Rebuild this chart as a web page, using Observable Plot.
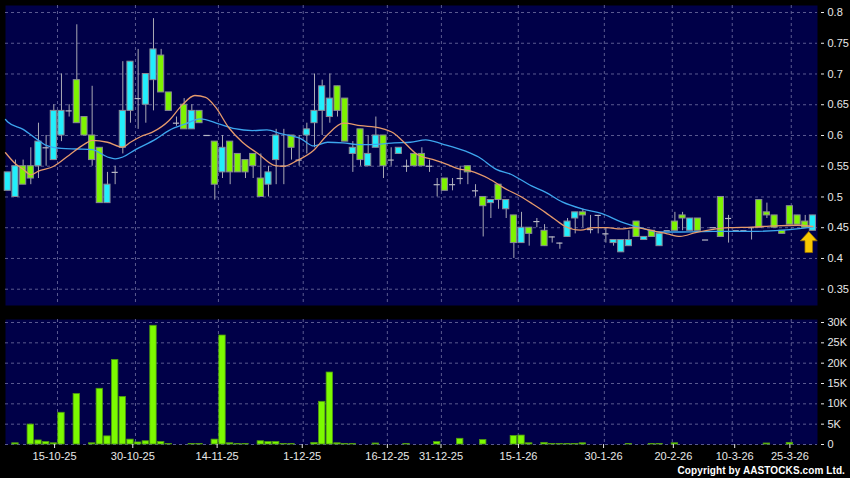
<!DOCTYPE html>
<html><head><meta charset="utf-8">
<script src="https://cdn.jsdelivr.net/npm/d3@7"></script>
<script src="https://cdn.jsdelivr.net/npm/@observablehq/plot@0.6"></script>
<style>
html,body{margin:0;padding:0;background:#000;}
#wrap{position:relative;width:850px;height:478px;background:#000;overflow:hidden;font-family:"Liberation Sans",Arial,sans-serif;}
#price{position:absolute;left:0;top:0;}
#vol{position:absolute;left:0;top:310px;}
#copy{position:absolute;right:5px;top:465px;color:#fff;font:bold 10px "Liberation Sans",Arial,sans-serif;letter-spacing:0.1px;white-space:nowrap;}
</style></head><body>
<div id="wrap"><div id="price"></div><div id="vol"></div><div id="copy">Copyright by AASTOCKS.com Ltd.</div></div>
<script>
// ---- data ----
const open = [0.51,0.50,0.55,0.55,0.55,0.58,0.56,0.60,0.64,0.69, 0.63,0.60,0.58,0.49,0.54,0.58,0.64,0.66,0.65,0.69, 0.73,0.67,0.62,0.65,0.61,0.64,0.60,0.59,0.54,0.59, 0.57,0.56,0.57,0.53,0.52,0.56,0.55,0.60,0.56,0.60, 0.62,0.64,0.63,0.68,0.66,0.57,0.61,0.55,0.58,0.60, 0.56,0.57,0.55,0.57,0.57,0.55,0.52,0.53,0.52,0.53, 0.55,0.51,0.50,0.49,0.52,0.48,0.47,0.425,0.45,0.46, 0.445,0.435,0.425,0.435,0.465,0.475,0.447,0.47,0.44,0.425, 0.41,0.42,0.46,0.43,0.445,0.42,0.445,0.46,0.47,0.445, 0.465,0.43,0.45,0.50,0.465,0.445,0.445,0.45,0.495,0.475, 0.47,0.445,0.485,0.47,0.46,0.445];
const high = [0.54,0.56,0.56,0.58,0.62,0.60,0.65,0.70,0.65,0.78, 0.63,0.68,0.58,0.54,0.55,0.72,0.72,0.74,0.70,0.79, 0.74,0.67,0.63,0.66,0.65,0.64,0.60,0.59,0.60,0.59, 0.57,0.56,0.57,0.57,0.55,0.61,0.61,0.60,0.60,0.62, 0.70,0.69,0.70,0.68,0.66,0.59,0.61,0.60,0.63,0.60, 0.58,0.58,0.56,0.57,0.58,0.56,0.53,0.53,0.53,0.55, 0.55,0.52,0.50,0.495,0.52,0.495,0.47,0.475,0.45,0.465, 0.455,0.435,0.425,0.465,0.475,0.48,0.47,0.47,0.45,0.43, 0.43,0.445,0.46,0.435,0.445,0.44,0.445,0.475,0.475,0.465, 0.465,0.43,0.45,0.50,0.47,0.445,0.445,0.45,0.495,0.49, 0.47,0.445,0.485,0.47,0.47,0.47];
const low = [0.51,0.50,0.52,0.52,0.53,0.55,0.56,0.59,0.63,0.62, 0.60,0.55,0.49,0.49,0.52,0.57,0.62,0.61,0.62,0.64, 0.67,0.64,0.615,0.61,0.61,0.62,0.60,0.495,0.53,0.52, 0.54,0.53,0.53,0.50,0.50,0.52,0.52,0.56,0.55,0.57, 0.58,0.60,0.62,0.63,0.59,0.54,0.55,0.55,0.58,0.53, 0.55,0.57,0.54,0.55,0.55,0.54,0.50,0.51,0.51,0.52, 0.52,0.50,0.435,0.465,0.48,0.465,0.40,0.425,0.42,0.45, 0.42,0.425,0.415,0.435,0.44,0.45,0.44,0.44,0.425,0.42, 0.41,0.42,0.435,0.43,0.435,0.42,0.445,0.445,0.445,0.445, 0.445,0.43,0.45,0.435,0.425,0.445,0.445,0.43,0.45,0.465, 0.45,0.44,0.455,0.455,0.45,0.445];
const close = [0.54,0.55,0.52,0.53,0.59,0.58,0.64,0.64,0.64,0.62, 0.60,0.56,0.49,0.52,0.54,0.64,0.72,0.66,0.70,0.74, 0.67,0.64,0.62,0.61,0.64,0.62,0.60,0.52,0.58,0.54, 0.54,0.54,0.55,0.50,0.54,0.60,0.55,0.58,0.56,0.61, 0.64,0.68,0.66,0.64,0.59,0.58,0.56,0.57,0.60,0.55, 0.56,0.58,0.55,0.55,0.55,0.55,0.52,0.51,0.52,0.53, 0.54,0.51,0.485,0.495,0.495,0.495,0.425,0.45,0.44,0.46, 0.42,0.435,0.425,0.46,0.475,0.47,0.447,0.47,0.44,0.43, 0.43,0.43,0.435,0.435,0.435,0.44,0.445,0.445,0.465,0.465, 0.445,0.43,0.45,0.435,0.465,0.445,0.445,0.45,0.45,0.47, 0.45,0.44,0.455,0.455,0.45,0.47];
// volume in thousands of shares
const volumeK = [0,0.3,0,4.9,1.0,0.6,0.3,7.8,0,12.4, 0,0.3,13.7,2.0,20.8,11.7,1.2,0.5,0.8,29.2, 0.6,0.1,0,0,0.1,0.1,0,1.2,26.8,0.3, 0.1,0.1,0,0.8,0.6,0.6,0.1,0.1,0,0, 0.4,10.5,17.7,0.3,0.1,0.1,0,0,0.25,0, 0,0,0.15,0,0,0,0.6,0,0,1.4, 0,0,1.1,0,0,0,2.1,2.2,0.3,0, 0.4,0.1,0.1,0.1,0.1,0.3,0,0,0,0, 0,0.1,0,0,0.1,0.1,0,0.3,0,0, 0,0,0,0,0,0,0,0,0,0.25, 0,0,0.4,0,0,0];
// moving averages (session index, price)
const ma20Pos = [-0.3,0,2,4,5,7,9,11,13,14,15,16.65,19.3,21,23.2,25.1,27.5,29.6,31.9,33.8,35.6,38.2,39.9,41.7,43.7,46,48.6,50.4,52.5,54.5,56.7,59.8,61.4,63.7,65.6,68.3,70.1,72.3,75.1,77.5,79.9,82.5,85,87.7,92,97,102,105];
const ma20Val = [0.626,0.622,0.61,0.592,0.584,0.579,0.578,0.577,0.565,0.562,0.565,0.577,0.594,0.608,0.619,0.627,0.619,0.611,0.608,0.609,0.603,0.595,0.583,0.589,0.588,0.585,0.586,0.588,0.589,0.593,0.586,0.574,0.565,0.545,0.537,0.518,0.508,0.492,0.48,0.473,0.46,0.45,0.443,0.443,0.444,0.444,0.447,0.451];
const ma10Pos = [-0.3,1,2,3,4,6,8,10,11,13,15,16,17.3,18.8,21,22.7,24.4,25.8,27.1,28.8,30.6,32.7,34.9,36,37.7,39.9,41.6,43.8,46,48.6,50.3,51.5,53.4,55.4,57.1,58.7,60.4,62.7,64.8,66.7,68.4,70.1,71.2,72.7,74.7,76.4,78.2,79.9,81.7,84.2,86,87.7,89.7,91.4,94,97,100,103,105];
const ma10Val = [0.572,0.554,0.545,0.536,0.542,0.55,0.568,0.586,0.592,0.589,0.581,0.589,0.598,0.605,0.624,0.649,0.665,0.662,0.646,0.613,0.589,0.57,0.551,0.55,0.559,0.576,0.60,0.62,0.616,0.612,0.604,0.591,0.569,0.561,0.554,0.546,0.542,0.53,0.514,0.502,0.489,0.475,0.465,0.452,0.446,0.45,0.45,0.448,0.45,0.445,0.44,0.436,0.442,0.446,0.45,0.451,0.453,0.454,0.452];
// x axis: date labels and their session positions
const tickLabels = ["15-10-25","30-10-25","14-11-25","1-12-25","16-12-25","31-12-25","15-1-26","30-1-26","20-2-26","10-3-26","25-3-26"];
const tickIdx = [6.1,16.3,27.3,38.4,49.5,56.5,66.6,77.7,86.8,94.8,102.0];
const gridIdx = [6.48,16.65,27.47,38.53,49.5,56.55,66.58,77.8,86.66,94.48,102.18];
const priceTicks = [0.35,0.4,0.45,0.5,0.55,0.6,0.65,0.7,0.75,0.8];
const volTicks = [0,5,10,15,20,25,30];
const arrowAt = [{i: 104.46, price: 0.4267}];

// ---- styles ----
const NAVY = "#000048";
const GRID = "#5a5a90";
const CYAN = "#22eefc";
const GREEN = "#7ef400";
const TXT = "#e8e8e8";
const FONT = "Liberation Sans, Arial, sans-serif";
const X_DOMAIN = [-0.3, 105.6];
const HW = 0.4;

const candles = open.map((o, i) => ({i, o, h: high[i], l: low[i], c: close[i]}));
const up = candles.filter(d => d.c > d.o);
const down = candles.filter(d => d.c < d.o);
const doji = candles.filter(d => d.c === d.o);
const ma20 = ma20Pos.map((x, k) => ({x, y: ma20Val[k]}));
const ma10 = ma10Pos.map((x, k) => ({x, y: ma10Val[k]}));
const vols = volumeK.map((v, i) => ({i, v})).filter(d => d.v > 0);

const arrowSymbol = {
  draw(ctx, size) {
    const s = Math.sqrt(size / Math.PI);
    ctx.moveTo(0, -s);
    ctx.lineTo(0.8 * s, -0.12 * s);
    ctx.lineTo(0.36 * s, -0.12 * s);
    ctx.lineTo(0.36 * s, s);
    ctx.lineTo(-0.36 * s, s);
    ctx.lineTo(-0.36 * s, -0.12 * s);
    ctx.lineTo(-0.8 * s, -0.12 * s);
    ctx.closePath();
  }
};

const price = Plot.plot({
  width: 850, height: 310,
  marginLeft: 5, marginRight: 33, marginTop: 5, marginBottom: 5,
  style: {background: "#000", color: TXT, fontFamily: FONT, fontSize: "11px", overflow: "visible"},
  x: {domain: X_DOMAIN, axis: null, label: null},
  y: {domain: [0.3235, 0.8114], axis: null, label: null},
  marks: [
    Plot.frame({fill: NAVY, stroke: "none"}),
    Plot.ruleY(priceTicks, {stroke: GRID, strokeDasharray: "3,3"}),
    Plot.ruleX(gridIdx, {stroke: GRID, strokeDasharray: "3,3"}),
    Plot.ruleX(candles, {x: "i", y1: "l", y2: "h", stroke: "#a9a9b4", strokeWidth: 1}),
    Plot.ruleY(doji, {y: "o", x1: d => d.i - HW, x2: d => d.i + HW, stroke: "#b8b8c4", strokeWidth: 1.2}),
    Plot.rect(up, {x1: d => d.i - HW, x2: d => d.i + HW, y1: "o", y2: "c", fill: CYAN, stroke: "#8a8a96", strokeWidth: 1}),
    Plot.rect(down, {x1: d => d.i - HW, x2: d => d.i + HW, y1: "o", y2: "c", fill: GREEN, stroke: "#8a8a96", strokeWidth: 1}),
    Plot.line(ma20, {x: "x", y: "y", stroke: "#3da6ee", strokeWidth: 1.3, curve: "monotone-x"}),
    Plot.line(ma10, {x: "x", y: "y", stroke: "#e69a6c", strokeWidth: 1.3, curve: "monotone-x"}),
    Plot.dot(arrowAt, {x: "i", y: "price", r: 10.5, symbol: arrowSymbol, fill: "#f8c800", stroke: "#9a7000", strokeWidth: 0.8}),
    Plot.axisY({anchor: "right", label: null, ticks: priceTicks, tickFormat: d => String(+d.toFixed(2)), tickSize: 3, tickPadding: 4, dx: 3, stroke: TXT, fill: TXT})
  ]
});
document.getElementById("price").appendChild(price);

const vol = Plot.plot({
  width: 850, height: 168,
  marginLeft: 5, marginRight: 33, marginTop: 9, marginBottom: 34,
  style: {background: "#000", color: TXT, fontFamily: FONT, fontSize: "11px", overflow: "visible"},
  x: {domain: X_DOMAIN, axis: null, label: null},
  y: {domain: [0, 30.74], axis: null, label: null},
  marks: [
    Plot.frame({fill: NAVY, stroke: "none"}),
    Plot.ruleY(volTicks, {stroke: GRID, strokeDasharray: "3,3"}),
    Plot.ruleX(gridIdx, {stroke: GRID, strokeDasharray: "3,3"}),
    Plot.rect(vols, {x1: d => d.i - 0.42, x2: d => d.i + 0.42, y1: 0, y2: "v", fill: "#7cfa00", stroke: "#4f9a10", strokeWidth: 0.8}),
    Plot.axisY({anchor: "right", label: null, ticks: volTicks, tickFormat: d => d === 0 ? "0" : d + "K", tickSize: 3, tickPadding: 4, dx: 3, stroke: TXT, fill: TXT}),
    Plot.axisX({anchor: "bottom", label: null, ticks: tickIdx, tickFormat: d => tickLabels[tickIdx.indexOf(d)], tickSize: 4, tickPadding: 4, stroke: TXT, fill: TXT})
  ]
});
document.getElementById("vol").appendChild(vol);
</script>
</body></html>
